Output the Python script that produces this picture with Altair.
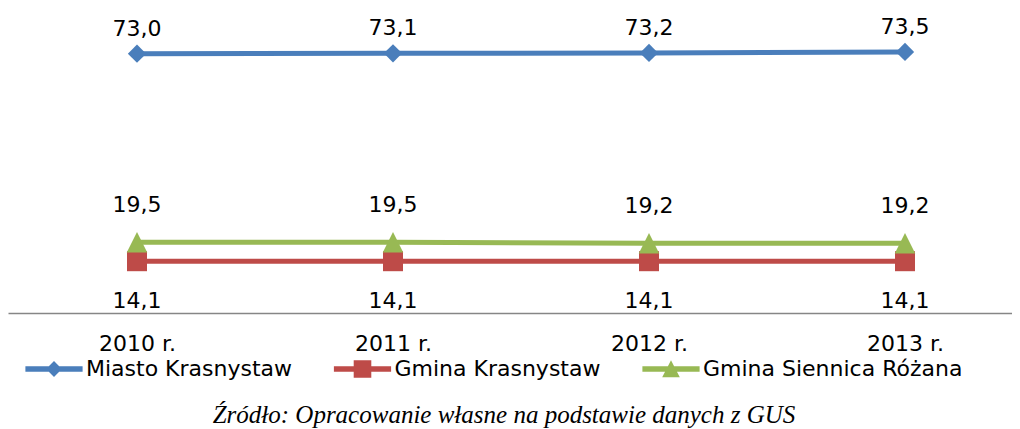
import altair as alt
import pandas as pd

years = [2010, 2011, 2012, 2013]
series = ["Miasto Krasnystaw", "Gmina Krasnystaw", "Gmina Siennica Różana"]
miasto_krasnystaw = [73.0, 73.1, 73.2, 73.5]
gmina_krasnystaw = [14.1, 14.1, 14.1, 14.1]
gmina_siennica_rozana = [19.5, 19.5, 19.2, 19.2]
colors = ["#4A7EBB", "#BE4B48", "#98B954"]
caption = "Źródło: Opracowanie własne na podstawie danych z GUS"

rows = []
for name, vals in zip(series, [miasto_krasnystaw, gmina_krasnystaw, gmina_siennica_rozana]):
    for yr, v in zip(years, vals):
        rows.append({"rok": yr, "seria": name, "wartosc": v})
df = pd.DataFrame(rows)
legend_df = pd.DataFrame({"seria": series})

FONT = "DejaVu Sans"
FS = 22

x = alt.X(
    "rok:Q",
    scale=alt.Scale(domain=[2009.49609, 2013.41797], nice=False, zero=False),
    axis=alt.Axis(
        values=years, labelExpr="datum.value + ' r.'", title=None, grid=False,
        ticks=False, tickSize=0, domainColor="#868686", domainWidth=1.3,
        labelFont=FONT, labelFontSize=FS, labelColor="black",
        labelBaseline="alphabetic", labelPadding=37, labelFlush=False,
        labelOverlap=False,
    ),
)
y = alt.Y("wartosc:Q", scale=alt.Scale(domain=[-0.6, 80], nice=False, zero=False), axis=None)
color_scale = alt.Scale(domain=series, range=colors)
color = alt.Color("seria:N", scale=color_scale, legend=None)

base = alt.Chart(df)

lines = base.mark_line(strokeWidth=5).encode(x=x, y=y, color=color)

point_shapes = ["diamond", "square", "M0,-1L1,1L-1,1Z"]
point_sizes = [335, 400, 420]
label_dy = [-18, 47, -30]

layers = [lines]
for s, sh, sz in zip(series, point_shapes, point_sizes):
    layers.append(
        base.transform_filter(alt.datum.seria == s)
        .mark_point(filled=True, opacity=1, shape=sh, size=sz)
        .encode(x=x, y=y, color=color)
    )
for s, d in zip(series, label_dy):
    layers.append(
        base.transform_filter(alt.datum.seria == s)
        .transform_calculate(lab="replace(format(datum.wartosc, '.1f'), '.', ',')")
        .mark_text(font=FONT, fontSize=FS, color="black", baseline="alphabetic", dy=d)
        .encode(x=x, y=y, text="lab:N")
    )
main = alt.layer(*layers).properties(width=1004, height=284)

# legend row: line + marker symbols as custom paths
legend_paths = [
    "M-2.6,-0.25H2.6V0.25H-2.6Z M0,-0.72L0.72,0L0,0.72L-0.72,0Z",
    "M-2.6,-0.25H2.6V0.25H-2.6Z M-0.8,-0.8H0.8V0.8H-0.8Z",
    "M-2.6,-0.25H2.6V0.25H-2.6Z M0,-0.8L0.8,0.75L-0.8,0.75Z",
]
lx = alt.X(
    "seria:N",
    scale=alt.Scale(type="point", domain=series, range=[46, 663], padding=0),
    axis=None,
)
leg_base = alt.Chart(legend_df)
leg_sym = leg_base.mark_point(filled=True, opacity=1, size=484).encode(
    x=lx,
    color=color,
    shape=alt.Shape("seria:N", scale=alt.Scale(domain=series, range=legend_paths), legend=None),
)
leg_txt = leg_base.mark_text(
    align="left", baseline="middle", dx=32, font=FONT, fontSize=FS, color="black"
).encode(x=lx, text="seria:N")
legend_row = alt.layer(leg_sym, leg_txt).properties(width=1004, height=24)

chart = (
    alt.vconcat(main, legend_row, spacing=3)
    .properties(
        padding={"left": 0, "top": 7, "right": 0, "bottom": 0},
        title=alt.TitleParams(
            caption, orient="bottom", anchor="middle", font="Liberation Serif",
            fontStyle="italic", fontWeight="normal", fontSize=25, color="black",
            offset=22, dx=-6,
        ),
    )
    .configure_view(stroke=None)
)

chart.save("out.html", embed_options={"renderer": "svg", "actions": False})
